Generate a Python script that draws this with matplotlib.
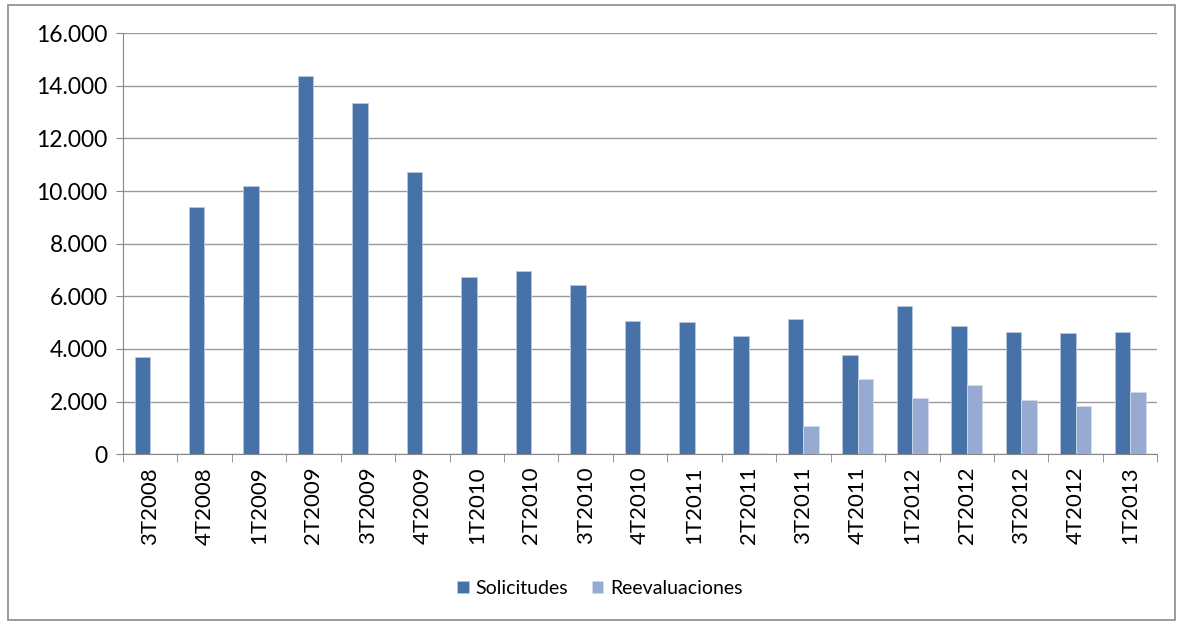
import numpy as np
import matplotlib.pyplot as plt
from matplotlib.ticker import FuncFormatter, FixedLocator
from matplotlib.patches import Rectangle

plt.rcParams['font.family'] = ['Lato', 'DejaVu Sans']

trimestres = ["3T2008", "4T2008", "1T2009", "2T2009", "3T2009", "4T2009",
              "1T2010", "2T2010", "3T2010", "4T2010", "1T2011", "2T2011",
              "3T2011", "4T2011", "1T2012", "2T2012", "3T2012", "4T2012", "1T2013"]
solicitudes = [3690, 9390, 10190, 14370, 13350, 10720, 6730, 6960, 6430, 5060,
               5020, 4510, 5140, 3780, 5630, 4890, 4650, 4610, 4650]
reevaluaciones = [0, 0, 0, 0, 0, 0, 0, 0, 0, 0, 0, 60, 1090, 2850, 2120,
                  2650, 2080, 1830, 2360]

fig = plt.figure(figsize=(11.81, 6.24), dpi=100)
ax = fig.add_axes([0.104, 0.272, 0.876, 0.675])

x = np.arange(len(trimestres))
w = 0.285
ax.bar(x - w / 2, solicitudes, w, color='#4672A8', edgecolor='#B8C8E0',
       linewidth=0.6, label='Solicitudes', zorder=3)
ax.bar(x + w / 2, reevaluaciones, w, color='#97ABD2', edgecolor='#D0DAEC',
       linewidth=0.6, label='Reevaluaciones', zorder=3)

ax.set_xlim(-0.5, len(trimestres) - 0.5)
ax.set_ylim(0, 16000)
ax.set_yticks(np.arange(0, 16001, 2000))
ax.yaxis.set_major_formatter(FuncFormatter(lambda v, p: f"{int(v):,}".replace(",", ".")))
ax.grid(axis='y', color='#9A9A9A', linewidth=1.0, zorder=0)

ax.set_xticks(x)
ax.set_xticklabels(trimestres, rotation=90, fontsize=16)
ax.xaxis.set_minor_locator(FixedLocator(np.arange(-0.5, len(trimestres), 1)))
ax.tick_params(axis='x', which='major', length=0, pad=9)
ax.tick_params(axis='x', which='minor', length=6, color='#888888')
ax.tick_params(axis='y', labelsize=16.5, length=5, color='#888888', pad=6)

for s in ['top', 'right']:
    ax.spines[s].set_visible(False)
for s in ['left', 'bottom']:
    ax.spines[s].set_color('#888888')

fig.legend(loc='center', bbox_to_anchor=(0.508, 0.057), ncol=2, frameon=False,
           fontsize=14, handlelength=0.6, handleheight=0.6, columnspacing=1.2,
           handletextpad=0.35)

fig.patches.append(Rectangle((0.007, 0.007), 0.988, 0.985, transform=fig.transFigure,
                             fill=False, edgecolor='#8A8A8A', linewidth=1.2))

fig.savefig('out.png', dpi=100)
